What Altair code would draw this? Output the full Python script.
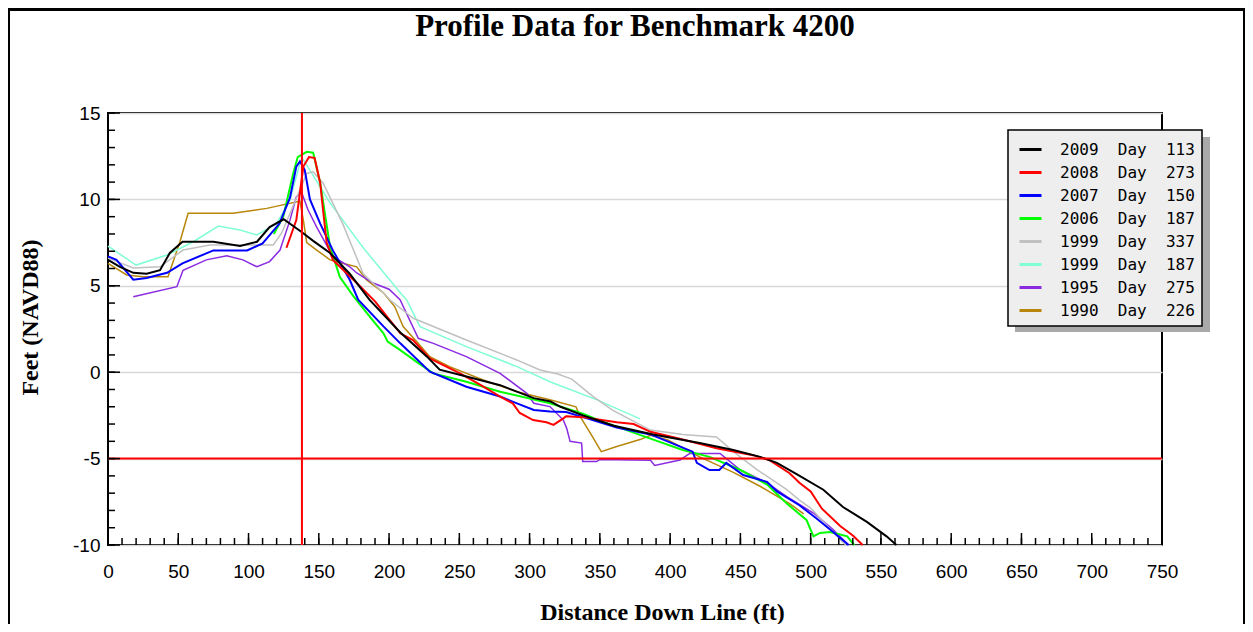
import altair as alt
import pandas as pd

# ---------------- data ----------------
title_text = "Profile Data for Benchmark 4200"
labels = ["2009\u00a0\u00a0Day\u00a0\u00a0113", "2008\u00a0\u00a0Day\u00a0\u00a0273",
          "2007\u00a0\u00a0Day\u00a0\u00a0150", "2006\u00a0\u00a0Day\u00a0\u00a0187",
          "1999\u00a0\u00a0Day\u00a0\u00a0337", "1999\u00a0\u00a0Day\u00a0\u00a0187",
          "1995\u00a0\u00a0Day\u00a0\u00a0275", "1990\u00a0\u00a0Day\u00a0\u00a0226"]
colors = ["#000000", "#ff0000", "#0000ff", "#00ff00", "#c0c0c0", "#80ffd4", "#8a2be2", "#b8860b"]
widths = [2, 2, 2, 2, 1.5, 1.5, 1.5, 1.5]

s2009_x = [0, 8.5, 18, 27.5, 37, 44, 53, 75, 94, 106, 115, 125, 138, 146, 158, 172, 186, 208, 227, 236, 255, 279, 303, 315, 322, 338, 360, 388, 421, 445, 464, 476, 490, 509, 523, 540, 554, 561]
s2009_y = [6.5, 6.1, 5.75, 5.7, 5.9, 6.9, 7.55, 7.55, 7.3, 7.55, 8.4, 8.85, 8.1, 7.6, 6.9, 5.7, 4.2, 2.3, 0.9, 0.15, -0.25, -0.75, -1.5, -1.7, -2.0, -2.5, -3.1, -3.6, -4.1, -4.5, -4.9, -5.25, -5.9, -6.8, -7.8, -8.66, -9.5, -10]

s2008_x = [127, 134, 136.6, 139, 143, 147, 151, 153, 155.6, 160, 177, 190, 208, 217, 229, 250.5, 265, 279, 288, 293, 302.5, 312, 317, 324, 326, 338, 362, 374, 386, 409, 433, 459, 471, 485, 492, 500, 508, 521, 530, 537]
s2008_y = [7.2, 8.8, 10.4, 11.9, 12.45, 12.4, 10.95, 9.4, 7.5, 6.5, 5.16, 4.1, 2.25, 1.86, 0.8, -0.07, -0.74, -1.41, -1.8, -2.36, -2.77, -2.9, -3.05, -2.67, -2.55, -2.6, -2.9, -3.0, -3.45, -3.9, -4.4, -4.8, -5.1, -5.85, -6.4, -6.9, -7.9, -8.9, -9.45, -10]

s2007_x = [0, 6, 18, 27.5, 42, 53, 75, 99, 110, 122, 129.5, 134, 136.6, 140, 143.7, 151, 160, 172, 178, 196, 208, 229, 255, 279, 291, 303, 314.5, 326, 338, 362, 386, 416, 419, 428, 435, 440, 452, 469, 476, 492, 504, 516, 527]
s2007_y = [6.7, 6.5, 5.35, 5.45, 5.75, 6.3, 7.05, 7.05, 7.45, 8.6, 10.1, 11.9, 12.2, 11.7, 10.0, 8.6, 7.05, 5.35, 4.2, 2.65, 1.67, 0.03, -0.84, -1.41, -1.8, -2.19, -2.28, -2.3, -2.6, -3.2, -3.6, -4.6, -5.25, -5.66, -5.66, -5.25, -5.95, -6.35, -6.9, -7.7, -8.45, -9.25, -10]

s2006_x = [118, 124.7, 131.8, 135, 141.4, 146, 151, 158, 165, 174.6, 186.4, 196, 199, 208, 219.6, 231.5, 255, 279, 314.5, 338, 350, 388, 409, 428, 450, 469, 483, 497, 502, 506.6, 514, 526, 531]
s2006_y = [8.0, 9.0, 11.5, 12.45, 12.75, 12.7, 10.95, 7.25, 5.5, 4.4, 3.2, 2.25, 1.77, 1.28, 0.6, -0.07, -0.55, -1.13, -1.8, -2.4, -2.8, -3.9, -4.5, -4.9, -5.66, -6.5, -7.6, -8.55, -9.5, -9.3, -9.25, -9.5, -10]

s1999a_x = [0, 18, 37, 53.4, 72.6, 101, 117.6, 123.6, 134.2, 141.4, 146, 153, 167, 181.6, 196, 200.7, 217.2, 255, 290.8, 307.4, 320, 330, 345, 359, 386, 409, 433, 445, 462, 473, 483, 492, 500, 521, 525]
s1999a_y = [6.6, 6.03, 6.1, 7.07, 7.36, 7.36, 7.36, 8.06, 10.1, 11.5, 11.6, 10.95, 8.6, 5.7, 4.58, 4.18, 3.12, 1.86, 0.71, 0.13, -0.1, -0.4, -1.4, -2.2, -3.35, -3.6, -3.75, -4.6, -5.65, -6.24, -6.8, -7.4, -7.86, -9.7, -10]

s1999b_x = [0, 20, 42, 60.7, 78.5, 94, 106, 120, 129.5, 136.6, 139, 158, 181.6, 208, 212.5, 222, 255, 291, 314.5, 348, 378.6]
s1999b_y = [7.3, 6.2, 6.78, 7.55, 8.46, 8.23, 7.94, 8.6, 9.97, 12.1, 12.3, 9.8, 7.2, 4.6, 4.18, 2.64, 1.48, 0.32, -0.55, -1.6, -2.7]

s1995_x = [18, 49, 53.4, 70, 84.5, 96, 106, 115, 122.4, 129.5, 134, 137.8, 142.3, 148.5, 160, 172, 177, 188.6, 200, 207.8, 220.8, 231.5, 255, 279, 298, 303, 314.5, 324, 326.4, 328.8, 337, 337.8, 347.7, 350, 386, 389, 407, 414, 435.5, 450, 469, 483, 502, 516, 527]
s1995_y = [4.37, 4.95, 5.9, 6.5, 6.74, 6.5, 6.1, 6.4, 7.07, 8.8, 10.15, 10.4, 9.4, 8.4, 6.7, 6.1, 5.74, 5.16, 4.8, 4.2, 1.96, 1.67, 0.9, -0.07, -1.22, -1.8, -1.99, -2.77, -3.25, -4.0, -4.1, -5.17, -5.17, -5.05, -5.1, -5.4, -5.08, -4.7, -4.7, -5.66, -6.4, -7.2, -8.15, -9.1, -10]

s1990_x = [0, 13.3, 25, 42.7, 51.2, 57, 89, 113, 136.6, 139, 141.4, 148.5, 158, 167, 177, 184, 196, 204, 210, 219.6, 229, 243, 267, 291, 314.5, 333, 336, 343, 351, 362, 378.6, 386, 398, 421, 445, 464, 485, 495]
s1990_y = [6.3, 5.63, 5.53, 5.53, 7.55, 9.2, 9.2, 9.48, 9.9, 8.8, 7.5, 7.07, 6.5, 6.3, 6.1, 5.34, 4.6, 3.8, 2.64, 1.77, 0.9, 0.32, -0.45, -1.13, -1.6, -2.0, -2.57, -3.5, -4.6, -4.3, -3.9, -3.65, -3.9, -4.9, -5.8, -6.6, -7.6, -8.2]

series_x = [s2009_x, s2008_x, s2007_x, s2006_x, s1999a_x, s1999b_x, s1995_x, s1990_x]
series_y = [s2009_y, s2008_y, s2007_y, s2006_y, s1999a_y, s1999b_y, s1995_y, s1990_y]

x_labels = list(range(0, 751, 50))
x_minor = list(range(0, 751, 10))
y_labels = [-10, -5, 0, 5, 10, 15]
y_minor = list(range(-10, 16))
ref_x = [138]
ref_y = [-5]

# ---------------- build tables ----------------
rows = []
for k in range(len(labels) - 1, -1, -1):
    for i, (xv, yv) in enumerate(zip(series_x[k], series_y[k])):
        rows.append({"series": labels[k], "x": xv, "y": yv, "i": i, "w": widths[k]})
df = pd.DataFrame(rows)

W, H = 1054, 432
xs = alt.Scale(domain=[0, 750], nice=False, zero=False)
ys = alt.Scale(domain=[-10, 15], nice=False, zero=False)

lab_font = "Liberation Sans"
ttl_font = "Liberation Serif"

lines = alt.Chart(df).mark_line(strokeJoin="miter").encode(
    x=alt.X("x:Q", scale=xs, axis=alt.Axis(
        values=x_labels, tickSize=0, domain=False, grid=False,
        labelFont=lab_font, labelFontSize=19, labelColor="black", labelPadding=17,
        labelFlush=False, labelOverlap=False, labelExpr="datum.value + ''",
        title="Distance Down Line (ft)", titleFont=ttl_font, titleFontSize=24,
        titleFontWeight="bold", titleColor="black", titleX=554, titleY=67,
        titleAlign="center", titleBaseline="middle")),
    y=alt.Y("y:Q", scale=ys, axis=alt.Axis(
        values=y_labels, tickSize=0, domain=False, grid=True,
        gridColor="#d8d8d8", gridWidth=1.5,
        labelFont=lab_font, labelFontSize=19, labelColor="black", labelPadding=8,
        labelFlush=False, labelOverlap=False, labelExpr="datum.value + ''",
        title="Feet (NAVD88)", titleFont=ttl_font, titleFontSize=24,
        titleFontWeight="bold", titleColor="black", titleX=-78, titleY=204,
        titleAngle=270, titleAlign="center", titleBaseline="middle")),
    color=alt.Color("series:N", title=None,
                    scale=alt.Scale(domain=labels, range=colors)),
    strokeWidth=alt.StrokeWidth("w:Q", scale=None),
    order=alt.Order("i:Q"),
)

shadow = alt.Chart(pd.DataFrame({"a": [0]})).mark_rect(color="#a9a9a9").encode(
    x=alt.value(907), x2=alt.value(1102), y=alt.value(24), y2=alt.value(219))

vref = alt.Chart(pd.DataFrame({"x": ref_x})).mark_rule(color="#ff0000", strokeWidth=2).encode(
    x=alt.X("x:Q", scale=xs))
href = alt.Chart(pd.DataFrame({"y": ref_y})).mark_rule(color="#ff0000", strokeWidth=2).encode(
    y=alt.Y("y:Q", scale=ys))

xt_minor = alt.Chart(pd.DataFrame({"x": x_minor})).mark_rule(color="black", strokeWidth=1.5).encode(
    x=alt.X("x:Q", scale=xs), y=alt.value(H), y2=alt.value(H - 7))
xt_major = alt.Chart(pd.DataFrame({"x": x_labels})).mark_rule(color="black", strokeWidth=1.5).encode(
    x=alt.X("x:Q", scale=xs), y=alt.value(H), y2=alt.value(H - 12))
yt_minor = alt.Chart(pd.DataFrame({"y": y_minor})).mark_rule(color="black", strokeWidth=1.5).encode(
    y=alt.Y("y:Q", scale=ys), x=alt.value(0), x2=alt.value(7))
yt_major = alt.Chart(pd.DataFrame({"y": y_labels})).mark_rule(color="black", strokeWidth=1.5).encode(
    y=alt.Y("y:Q", scale=ys), x=alt.value(0), x2=alt.value(12))

# chart title as a text mark centred over the plot
title_mark = alt.Chart(pd.DataFrame({"t": [title_text]})).mark_text(
    font=ttl_font, fontSize=31, fontWeight="bold", color="black",
    align="center", baseline="middle"
).encode(x=alt.value(W / 2), y=alt.value(-86), text="t:N")

# outer page frame (decoration)
fr_top = alt.Chart(pd.DataFrame({"a": [0]})).mark_rule(color="black", strokeWidth=3).encode(
    x=alt.value(-100), x2=alt.value(1137), y=alt.value(-103.5))
fr_left = alt.Chart(pd.DataFrame({"a": [0]})).mark_rule(color="black", strokeWidth=2).encode(
    x=alt.value(-99), y=alt.value(-105), y2=alt.value(520))
fr_right = alt.Chart(pd.DataFrame({"a": [0]})).mark_rule(color="black", strokeWidth=2).encode(
    x=alt.value(1136), y=alt.value(-105), y2=alt.value(520))

chart = alt.layer(
    lines, vref, href, xt_minor, xt_major, yt_minor, yt_major, shadow,
    title_mark, fr_top, fr_left, fr_right
).properties(
    width=W, height=H,
    padding={"left": 100, "top": 105, "right": 83, "bottom": 79},
    autosize=alt.AutoSizeParams(type="none"),
    background="white",
).configure_view(
    stroke="black", strokeWidth=2
).configure_legend(
    orient="none", legendX=900, legendY=17, fillColor="#eeeeee", strokeColor="black",
    strokeWidth=1.5, padding=7, symbolType="stroke", symbolSize=484, symbolStrokeWidth=3,
    symbolOffset=3, labelFont="DejaVu Sans Mono", labelFontSize=16, labelColor="black",
    labelOffset=17, labelLimit=400, rowPadding=2,
)

chart.save("out.html", embed_options={"renderer": "svg", "actions": False})
